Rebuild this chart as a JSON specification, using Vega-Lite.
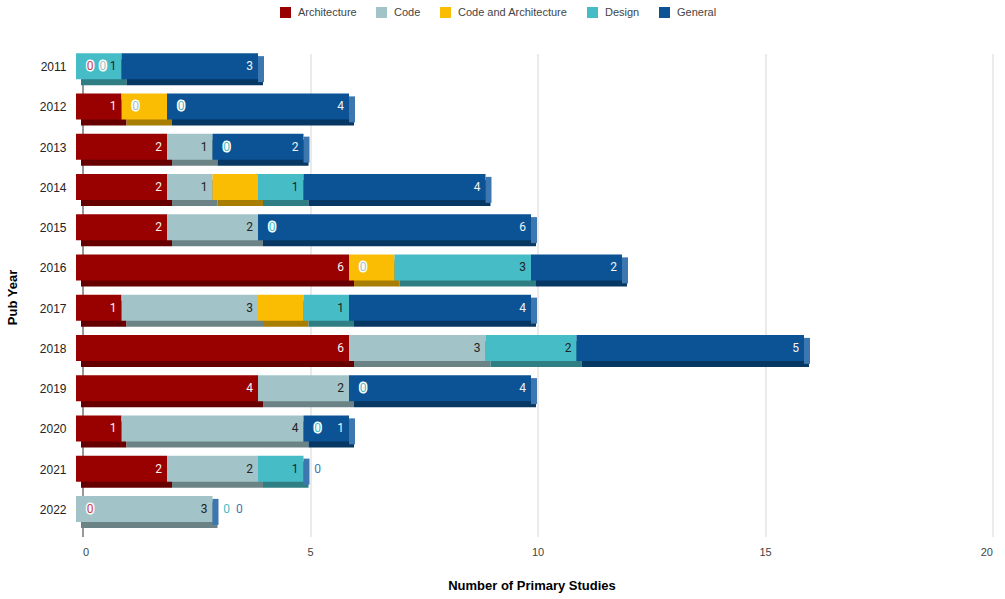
{
  "$schema": "https://vega.github.io/schema/vega-lite/v6.json",
  "width": 910,
  "height": 483,
  "autosize": {"type": "none"},
  "padding": {"left": 76, "top": 47, "right": 19, "bottom": 69},
  "background": "white",
  "config": {
    "view": {"stroke": null},
    "font": "Roboto",
    "axisX": {"labelColor": "#444", "labelFont": "Liberation Sans", "labelFontSize": 11}
  },
  "data": {
    "values": [
      {"year": "2011", "category": "Architecture", "value": 0},
      {"year": "2011", "category": "Code", "value": 0},
      {"year": "2011", "category": "Design", "value": 1},
      {"year": "2011", "category": "General", "value": 3},
      {"year": "2012", "category": "Architecture", "value": 1},
      {"year": "2012", "category": "Code", "value": 0},
      {"year": "2012", "category": "Code and Architecture", "value": 1},
      {"year": "2012", "category": "Design", "value": 0},
      {"year": "2012", "category": "General", "value": 4},
      {"year": "2013", "category": "Architecture", "value": 2},
      {"year": "2013", "category": "Code", "value": 1},
      {"year": "2013", "category": "Design", "value": 0},
      {"year": "2013", "category": "General", "value": 2},
      {"year": "2014", "category": "Architecture", "value": 2},
      {"year": "2014", "category": "Code", "value": 1},
      {"year": "2014", "category": "Code and Architecture", "value": 1},
      {"year": "2014", "category": "Design", "value": 1},
      {"year": "2014", "category": "General", "value": 4},
      {"year": "2015", "category": "Architecture", "value": 2},
      {"year": "2015", "category": "Code", "value": 2},
      {"year": "2015", "category": "Design", "value": 0},
      {"year": "2015", "category": "General", "value": 6},
      {"year": "2016", "category": "Architecture", "value": 6},
      {"year": "2016", "category": "Code", "value": 0},
      {"year": "2016", "category": "Code and Architecture", "value": 1},
      {"year": "2016", "category": "Design", "value": 3},
      {"year": "2016", "category": "General", "value": 2},
      {"year": "2017", "category": "Architecture", "value": 1},
      {"year": "2017", "category": "Code", "value": 3},
      {"year": "2017", "category": "Code and Architecture", "value": 1},
      {"year": "2017", "category": "Design", "value": 1},
      {"year": "2017", "category": "General", "value": 4},
      {"year": "2018", "category": "Architecture", "value": 6},
      {"year": "2018", "category": "Code", "value": 3},
      {"year": "2018", "category": "Design", "value": 2},
      {"year": "2018", "category": "General", "value": 5},
      {"year": "2019", "category": "Architecture", "value": 4},
      {"year": "2019", "category": "Code", "value": 2},
      {"year": "2019", "category": "Design", "value": 0},
      {"year": "2019", "category": "General", "value": 4},
      {"year": "2020", "category": "Architecture", "value": 1},
      {"year": "2020", "category": "Code", "value": 4},
      {"year": "2020", "category": "Design", "value": 0},
      {"year": "2020", "category": "General", "value": 1},
      {"year": "2021", "category": "Architecture", "value": 2},
      {"year": "2021", "category": "Code", "value": 2},
      {"year": "2021", "category": "Design", "value": 1},
      {"year": "2021", "category": "General", "value": 0},
      {"year": "2022", "category": "Architecture", "value": 0},
      {"year": "2022", "category": "Code", "value": 3},
      {"year": "2022", "category": "Design", "value": 0},
      {"year": "2022", "category": "General", "value": 0}
    ]
  },
  "transform": [
    {"calculate": "indexof(['Architecture','Code','Code and Architecture','Design','General'], datum.category)", "as": "ord"},
    {"stack": "value", "groupby": ["year"], "sort": [{"field": "ord"}], "as": ["s0", "s1"]}
  ],
  "encoding": {
    "y": {
      "field": "year",
      "type": "ordinal",
      "scale": {"paddingInner": 0.2, "paddingOuter": 0.1},
      "axis": {
        "title": "Pub Year",
        "titleFont": "Liberation Sans",
        "titleFontWeight": "bold",
        "titleFontSize": 13,
        "titleColor": "#000",
        "titlePadding": 20,
        "titleY": 250,
        "labelFont": "Liberation Sans",
        "labelFontSize": 12,
        "labelColor": "#222",
        "domain": false,
        "ticks": false,
        "grid": false,
        "labelPadding": 10
      }
    }
  },
  "layer": [
    {
      "mark": {"type": "bar", "size": 26, "yOffset": 5, "y2Offset": 5, "xOffset": 5, "x2Offset": 5},
      "encoding": {
        "x": {
          "field": "s0",
          "type": "quantitative",
          "scale": {"domain": [0, 20], "nice": false},
          "axis": {
            "values": [0, 5, 10, 15, 20],
            "title": "Number of Primary Studies",
            "titleFont": "Liberation Sans",
            "titleFontSize": 13,
            "titleFontWeight": "bold",
            "titleColor": "#000",
            "titlePadding": 22,
            "titleX": 449,
            "labelFont": "Liberation Sans",
            "labelFontSize": 11,
            "labelColor": "#444",
            "labelPadding": 10,
            "domain": false,
            "ticks": false,
            "grid": true,
            "gridColor": {"condition": {"test": "datum.value === 0", "value": "#333"}, "value": "#d6d6d6"},
            "translate": 7,
            "encode": {"labels": {"update": {"fill": {"value": "#444444"}}}}
          }
        },
        "x2": {"field": "s1"},
        "color": {
          "field": "category",
          "type": "nominal",
          "scale": {
            "domain": ["Architecture", "Code", "Code and Architecture", "Design", "General"],
            "range": ["#660000", "#6c8386", "#a77d02", "#2f7e84", "#073763"]
          },
          "legend": null
        }
      }
    },
    {
      "mark": {"type": "bar", "size": 26, "yOffset": -1, "y2Offset": -1},
      "encoding": {
        "x": {"field": "s0", "type": "quantitative"},
        "x2": {"field": "s1"},
        "color": {
          "field": "category",
          "type": "nominal",
          "scale": {
            "domain": ["Architecture", "Code", "Code and Architecture", "Design", "General"],
            "range": ["#990000", "#a2c4c9", "#fbbc04", "#46bdc6", "#0b5394"]
          },
          "legend": {
            "title": null,
            "orient": "none",
            "legendX": 204,
            "legendY": -40,
            "direction": "horizontal",
            "symbolType": "square",
            "symbolSize": 121,
            "symbolStrokeWidth": 0,
            "labelFont": "Liberation Sans",
            "labelFontSize": 11,
            "labelColor": "#444",
            "labelOffset": 7,
            "columnPadding": 19,
            "padding": 0
          }
        }
      }
    },
    {
      "transform": [{"aggregate": [{"op": "max", "field": "s1", "as": "tot"}], "groupby": ["year"]}],
      "mark": {"type": "tick", "thickness": 6, "size": 26, "xOffset": 3, "yOffset": 2, "color": "#3d77b0", "opacity": 1},
      "encoding": {
        "x": {"field": "tot", "type": "quantitative"}
      }
    },
    {
      "transform": [{"filter": "datum.value > 0 && datum.category !== 'Code and Architecture'"}],
      "mark": {"type": "text", "align": "right", "baseline": "middle", "dx": -5, "dy": -1, "fontSize": 12, "font": "Roboto"},
      "encoding": {
        "x": {"field": "s1", "type": "quantitative"},
        "text": {"field": "value"},
        "color": {"condition": {"test": "datum.category === 'Architecture' || datum.category === 'General'", "value": "#f4f4f4"}, "value": "#222"}
      }
    },
    {
      "transform": [
        {"filter": "datum.value === 0"},
        {"window": [{"op": "row_number", "as": "zr"}], "groupby": ["year", "s0"], "sort": [{"field": "ord"}]},
        {"calculate": "datum.s0 + 0.31 + (datum.zr - 1) * 0.28", "as": "zx"}
      ],
      "mark": {"type": "text", "align": "center", "baseline": "middle", "dy": -1, "fontSize": 12, "font": "Roboto", "stroke": "white", "strokeWidth": 3, "strokeJoin": "round"},
      "encoding": {
        "x": {"field": "zx", "type": "quantitative"},
        "text": {"field": "value"},
        "color": {
          "field": "category",
          "type": "nominal",
          "scale": {
            "domain": ["Architecture", "Code", "Code and Architecture", "Design", "General"],
            "range": ["#cc3b3b", "#a2c4c9", "#fbbc04", "#46bdc6", "#3d77b0"]
          },
          "legend": null
        }
      }
    },
    {
      "transform": [
        {"filter": "datum.value === 0"},
        {"window": [{"op": "row_number", "as": "zr"}], "groupby": ["year", "s0"], "sort": [{"field": "ord"}]},
        {"calculate": "datum.s0 + 0.31 + (datum.zr - 1) * 0.28", "as": "zx"}
      ],
      "mark": {"type": "text", "align": "center", "baseline": "middle", "dy": -1, "fontSize": 12, "font": "Roboto"},
      "encoding": {
        "x": {"field": "zx", "type": "quantitative"},
        "text": {"field": "value"},
        "color": {
          "field": "category",
          "type": "nominal",
          "scale": {
            "domain": ["Architecture", "Code", "Code and Architecture", "Design", "General"],
            "range": ["#cc3b3b", "#a2c4c9", "#fbbc04", "#46bdc6", "#3d77b0"]
          },
          "legend": null
        }
      }
    }
  ],
  "resolve": {"scale": {"color": "independent"}}
}
